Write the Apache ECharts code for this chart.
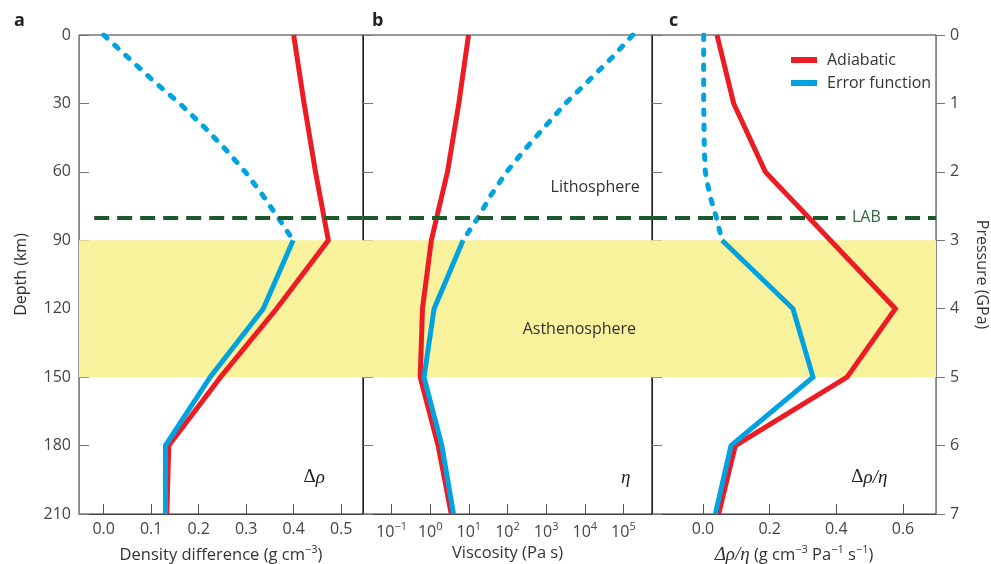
<!DOCTYPE html>
<html><head><meta charset="utf-8">
<script src="https://cdn.jsdelivr.net/npm/echarts@6/dist/echarts.min.js"></script>
<style>html,body{margin:0;padding:0;background:#fff}#c{width:991px;height:564px}</style>
</head><body><div id="c"></div>
<script>
// ---- data ----
const depthKm = [0, 30, 60, 90, 120, 150, 180, 210];
const depthLith = [0, 10, 20, 30, 40, 50, 60, 70, 80, 90];
const depthAsth = [90, 120, 150, 180, 210];

const densityAdiabatic = [0.40, 0.422, 0.446, 0.473, 0.364, 0.246, 0.137, 0.133];
const densityErfLith = [0.0, 0.052, 0.104, 0.16, 0.21, 0.256, 0.298, 0.334, 0.367, 0.399];
const densityErfAsth = [0.399, 0.336, 0.224, 0.130, 0.130];

const viscosityAdiabatic = [9.8, 5.5, 2.8, 1.07, 0.63, 0.55, 1.6, 3.5];
const viscosityErfLith = [174000, 50000, 12600, 3160, 955, 288, 95, 38, 17.4, 7.1];
const viscosityErfAsth = [7.1, 1.26, 0.69, 2.0, 4.0];

const ratioAdiabatic = [0.042, 0.092, 0.187, 0.382, 0.577, 0.432, 0.097, 0.047];
const ratioErfLith = [0.002, 0.002, 0.002, 0.002, 0.003, 0.004, 0.007, 0.02, 0.04, 0.057];
const ratioErfAsth = [0.057, 0.27, 0.33, 0.084, 0.037];

const densityTicks = [0, 0.1, 0.2, 0.3, 0.4, 0.5];
const viscosityTicks = [0.1, 1, 10, 100, 1000, 10000, 100000];
const ratioTicks = [0, 0.2, 0.4, 0.6];
const lithosphereBase = 80;           // LAB depth (km)
const asthenosphere = [90, 150];      // depth range (km)

// ---- styles ----
const FONT = '"Open Sans", "Noto Sans", sans-serif';
const SERIF = '"Liberation Serif", "DejaVu Serif", serif';
const RED = '#ed1c24', BLUE = '#00a3e0', GREEN = '#1d5a2b', YELLOW = '#f7f29b';
const pairs = (xs, ys) => xs.map((x, i) => [x, ys[i]]);
const supStyle = {fontSize: 11, fontFamily: FONT, color: '#333', verticalAlign: 'top', lineHeight: 22};
const supLab = {fontSize: 11, fontFamily: FONT, color: '#444', verticalAlign: 'top', lineHeight: 22};
const greek = {fontSize: 19, fontFamily: SERIF, color: '#222'};
const greekIt = {fontSize: 19, fontFamily: SERIF, fontStyle: 'italic', color: '#222'};
const greekName = {fontSize: 19, fontFamily: SERIF, fontStyle: 'italic', color: '#333', lineHeight: 22};

function xAxisBase(grid, ticks, fmt, name) {
  return {
    gridIndex: grid, type: 'value',
    axisLine: {show: true, onZero: false, lineStyle: {color: '#444', width: 1}},
    axisTick: {show: true, inside: true, length: 10, customValues: ticks, lineStyle: {color: '#555'}},
    axisLabel: {customValues: ticks, formatter: fmt, fontSize: 16, color: '#444', fontFamily: FONT, margin: 7,
      rich: {sup: supLab, b: {fontSize: 16, fontFamily: FONT, color: '#444', lineHeight: 22}}},
    splitLine: {show: false},
    name: name, nameLocation: 'middle', nameGap: 30,
    nameTextStyle: {fontSize: 16.5, color: '#333', fontFamily: FONT,
      rich: {sup: supStyle, gi: greekName}}
  };
}
function yDepth(grid, showLabel, lineColor) {
  return {
    gridIndex: grid, type: 'value', inverse: true, min: 0, max: 210, interval: 30,
    axisLine: {show: true, onZero: false, lineStyle: {color: lineColor}},
    axisTick: {show: true, inside: true, length: 10, lineStyle: {color: '#777'}},
    axisLabel: {show: showLabel, fontSize: 16, color: '#444', fontFamily: FONT, margin: 8},
    splitLine: {show: false},
    name: showLabel ? 'Depth (km)' : '', nameLocation: 'middle', nameGap: 50, nameRotate: 90,
    nameTextStyle: {fontSize: 16, color: '#333', fontFamily: FONT}
  };
}
function lineSeries(name, xi, data, color, dotted) {
  return {
    name: name, type: 'line', xAxisIndex: xi, yAxisIndex: xi, data: data, symbol: 'none', z: 3,
    color: color, silent: true,
    lineStyle: dotted ? {color: color, width: 5, type: [4.5, 10.5], cap: 'round'}
                      : {color: color, width: 5, join: 'miter'}
  };
}
function backdrop(xi, labs, lab) {
  return {
    type: 'line', xAxisIndex: xi, yAxisIndex: xi, data: [], z: 1, silent: true,
    markArea: {silent: true, itemStyle: {color: YELLOW}, data: [[{yAxis: asthenosphere[0]}, {yAxis: asthenosphere[1]}]]},
    markLine: {silent: true, symbol: 'none', label: {show: false},
      lineStyle: {color: GREEN, width: 4, type: [15, 8]}, data: [lab]},
    markPoint: {silent: true, symbol: 'circle', symbolSize: 0, data: labs}
  };
}
const gridBase = {top: 35, height: 479, show: true, borderColor: '#333', borderWidth: 1,
  backgroundColor: 'transparent', containLabel: false, outerBoundsMode: 'none'};

const chart = echarts.init(document.getElementById('c'));
const titleStyle = {fontSize: 18, fontWeight: 'bold', color: '#222', fontFamily: FONT};
chart.setOption({
  animation: false,
  title: [
    {text: 'a', left: 9, top: 7, textStyle: titleStyle},
    {text: 'b', left: 367, top: 7, textStyle: titleStyle},
    {text: 'c', left: 664, top: 7, textStyle: titleStyle}
  ],
  legend: {
    data: ['Adiabatic', 'Error function'], orient: 'vertical', left: 786, top: 47,
    icon: 'rect', itemWidth: 26, itemHeight: 6, itemGap: 7,
    textStyle: {fontSize: 16, color: '#333', fontFamily: FONT, padding: [0, 0, 0, 5]}
  },
  grid: [
    Object.assign({left: 79, width: 284}, gridBase),
    Object.assign({left: 363, width: 289}, gridBase),
    Object.assign({left: 652, width: 284}, gridBase)
  ],
  xAxis: [
    Object.assign(xAxisBase(0, densityTicks, v => Number(v).toFixed(1), 'Density difference (g cm{sup|−3})'),
      {min: -0.052, max: 0.546}),
    Object.assign(xAxisBase(1, viscosityTicks, v => {
        const e = Math.round(Math.log10(v));
        return '{b|10}{sup|' + (e < 0 ? '−' + (-e) : e) + '}';
      }, 'Viscosity (Pa s)'),
      {type: 'log', logBase: 10, min: Math.pow(10, -1.74), max: Math.pow(10, 5.74)}),
    Object.assign(xAxisBase(2, ratioTicks, v => Number(v).toFixed(1),
        '{gi|Δρ/η} (g cm{sup|−3} Pa{sup|−1} s{sup|−1})'),
      {min: -0.153, max: 0.699})
  ],
  yAxis: [
    yDepth(0, true, '#888'),
    yDepth(1, false, '#222'),
    yDepth(2, false, '#222'),
    {
      gridIndex: 2, type: 'value', position: 'right', inverse: true, min: 0, max: 7, interval: 1,
      axisLine: {show: true, onZero: false, lineStyle: {color: '#888'}},
      axisTick: {show: true, inside: false, length: 9, lineStyle: {color: '#777'}},
      axisLabel: {fontSize: 16, color: '#444', fontFamily: FONT, margin: 14},
      splitLine: {show: false},
      name: 'Pressure (GPa)', nameLocation: 'middle', nameGap: 38, nameRotate: -90,
      nameTextStyle: {fontSize: 16, color: '#333', fontFamily: FONT}
    }
  ],
  series: [
    backdrop(0, [
      {coord: [0.443, 194], label: {show: true, formatter: '{g|Δ}{gi|ρ}', rich: {g: greek, gi: greekIt}}}
    ], [{coord: [-0.02, lithosphereBase]}, {coord: [0.546, lithosphereBase]}]),
    lineSeries('Adiabatic', 0, pairs(densityAdiabatic, depthKm), RED, false),
    lineSeries('Error function (lithosphere)', 0, pairs(densityErfLith, depthLith), BLUE, true),
    lineSeries('Error function', 0, pairs(densityErfAsth, depthAsth), BLUE, false),

    backdrop(1, [
      {coord: [Math.pow(10, 4.27), 67], label: {show: true, formatter: 'Lithosphere', fontSize: 16, color: '#333', fontFamily: FONT}},
      {coord: [Math.pow(10, 3.86), 129], label: {show: true, formatter: 'Asthenosphere', fontSize: 16, color: '#333', fontFamily: FONT}},
      {coord: [Math.pow(10, 5.06), 194], label: {show: true, formatter: '{gi|η}', rich: {gi: greekIt}}}
    ], {yAxis: lithosphereBase}),
    lineSeries('Adiabatic', 1, pairs(viscosityAdiabatic, depthKm), RED, false),
    lineSeries('Error function (lithosphere)', 1, pairs(viscosityErfLith, depthLith), BLUE, true),
    lineSeries('Error function', 1, pairs(viscosityErfAsth, depthAsth), BLUE, false),

    backdrop(2, [
      {coord: [0.499, 194], label: {show: true, formatter: '{g|Δ}{gi|ρ/η}', rich: {g: greek, gi: greekIt}}},
      {coord: [0.49, lithosphereBase], symbol: 'rect', symbolSize: [42, 12], itemStyle: {color: '#fff'},
        label: {show: true, formatter: 'LAB', fontSize: 16, color: '#2e6b3a', fontFamily: FONT}}
    ], {yAxis: lithosphereBase}),
    lineSeries('Adiabatic', 2, pairs(ratioAdiabatic, depthKm), RED, false),
    lineSeries('Error function (lithosphere)', 2, pairs(ratioErfLith, depthLith), BLUE, true),
    lineSeries('Error function', 2, pairs(ratioErfAsth, depthAsth), BLUE, false)
  ]
});
</script></body></html>
